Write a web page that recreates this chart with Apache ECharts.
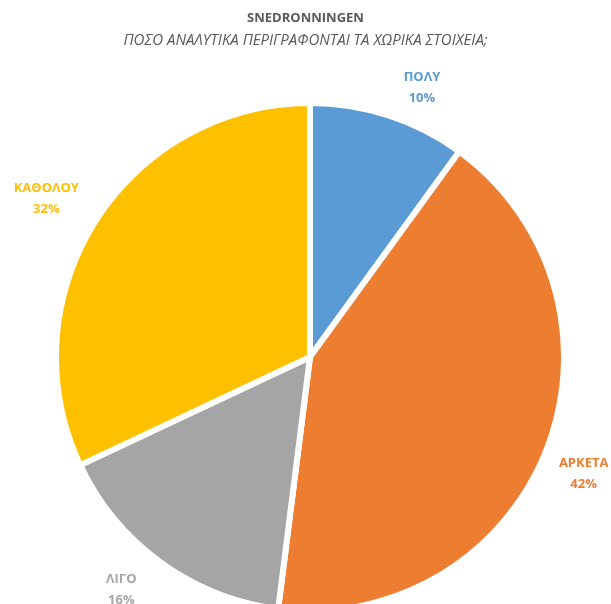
<!DOCTYPE html>
<html>
<head>
<meta charset="utf-8">
<script src="https://cdn.jsdelivr.net/npm/echarts@6/dist/echarts.min.js"></script>
<style>
  html, body { margin: 0; padding: 0; background: #ffffff; }
  #chart { width: 611px; height: 604px; }
</style>
</head>
<body>
<div id="chart"></div>
<script>
// Answers, clockwise from 12 o'clock
const categories = ['ΠΟΛΥ', 'ΑΡΚΕΤΑ', 'ΛΙΓΟ', 'ΚΑΘΟΛΟΥ'];
const shares = [10, 42, 16, 32];
const sliceColors = ['#5B9BD5', '#ED7D31', '#A5A5A5', '#FFC000'];

const titleText = 'SNEDRONNINGEN';
const subtitleText = 'ΠΟΣΟ ΑΝΑΛΥΤΙΚΑ ΠΕΡΙΓΡΑΦΟΝΤΑΙ ΤΑ ΧΩΡΙΚΑ ΣΤΟΙΧΕΙΑ;';

// small nudges for the outside labels (px), in category order
const labelNudges = [[18, 20], [-9, 5], [-10, -13], [-7, 5]];

const font = '"Open Sans", "Noto Sans", sans-serif';
const center = [310, 357];

const pieData = categories.map((name, i) => ({
  name: name,
  value: shares[i],
  itemStyle: { color: sliceColors[i] }
}));

const labelData = categories.map((name, i) => ({
  name: name,
  value: shares[i],
  itemStyle: { color: 'rgba(0,0,0,0)' },
  label: { color: sliceColors[i], offset: labelNudges[i] }
}));

const chart = echarts.init(document.getElementById('chart'), null, { renderer: 'canvas' });
chart.setOption({
  animation: false,
  backgroundColor: '#ffffff',
  title: {
    text: titleText,
    subtext: subtitleText,
    left: 'center',
    top: 7,
    itemGap: 8,
    textStyle: { fontFamily: font, fontSize: 13, fontWeight: 'bold', color: '#595959' },
    subtextStyle: { fontFamily: font, fontSize: 15, fontStyle: 'italic', color: '#595959' }
  },
  series: [
    {
      type: 'pie',
      center: center,
      radius: 254,
      startAngle: 90,
      clockwise: true,
      data: pieData,
      itemStyle: { borderColor: '#ffffff', borderWidth: 6 },
      label: { show: false },
      labelLine: { show: false },
      emphasis: { disabled: true }
    },
    {
      // invisible ring that carries the category labels around the pie
      type: 'pie',
      center: center,
      radius: [256, 346],
      startAngle: 90,
      clockwise: true,
      silent: true,
      data: labelData,
      label: {
        show: true,
        position: 'inside',
        formatter: p => p.name + '\n' + p.value + '%',
        fontFamily: font,
        fontSize: 13,
        fontWeight: 'bold',
        lineHeight: 21,
        align: 'center'
      },
      labelLine: { show: false },
      emphasis: { disabled: true }
    }
  ]
});
</script>
</body>
</html>
